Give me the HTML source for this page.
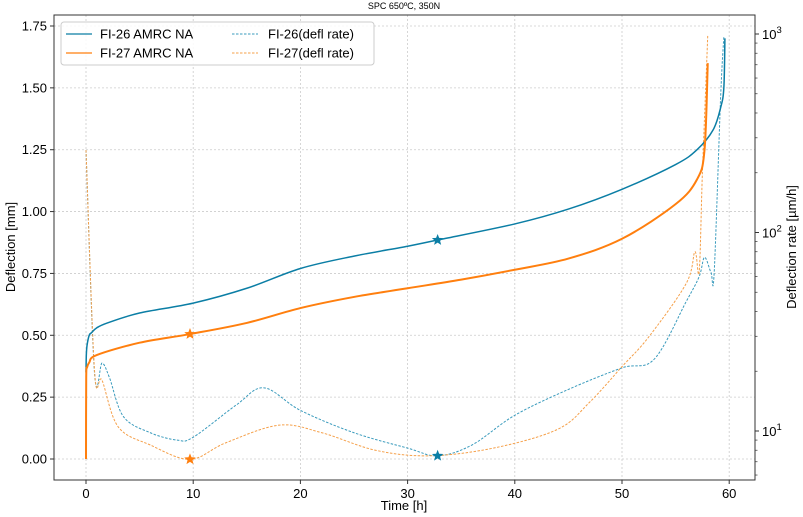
<!DOCTYPE html>
<html><head><meta charset="utf-8"><style>
body{margin:0;background:#fff;}
svg{display:block;font-family:"Liberation Sans","DejaVu Sans",sans-serif;}
</style></head><body>
<svg id="chart" width="803" height="517" viewBox="0 0 803 517" xmlns="http://www.w3.org/2000/svg">
<text x="404" y="9" font-size="9" text-anchor="middle">SPC 650ºC, 350N</text>
<g id="grid"></g>
<g id="series"></g>
<rect x="54" y="15" width="701" height="465" fill="none" stroke="#333" stroke-width="1"/>
<g id="axes"></g>
<text x="404" y="510" font-size="13" text-anchor="middle">Time [h]</text>
<text transform="translate(15,247) rotate(-90)" font-size="13" text-anchor="middle">Deflection [mm]</text>
<text transform="translate(796,247) rotate(-90)" font-size="13" text-anchor="middle">Deflection rate [µm/h]</text>
<g>
<rect x="61" y="22" width="313" height="43" rx="3" fill="#fff" fill-opacity="0.85" stroke="#ccc"/>
<line x1="66" y1="34" x2="92" y2="34" stroke="#0b7ea5" stroke-width="1.3"/>
<text x="100" y="38.5" font-size="13">FI-26 AMRC NA</text>
<line x1="66" y1="53" x2="92" y2="53" stroke="#ff7f0e" stroke-width="1.3"/>
<text x="100" y="57.5" font-size="13">FI-27 AMRC NA</text>
<line x1="232" y1="34" x2="258" y2="34" stroke="#3a9bbd" stroke-width="1" stroke-dasharray="2.5,1.5"/>
<text x="268" y="38.5" font-size="13">FI-26(defl rate)</text>
<line x1="232" y1="53" x2="258" y2="53" stroke="#f5a04a" stroke-width="1" stroke-dasharray="2.5,1.5"/>
<text x="268" y="57.5" font-size="13">FI-27(defl rate)</text>
</g>
</svg>
<script>
const xTicks=[0,10,20,30,40,50,60];
const yTicks=[0,0.25,0.5,0.75,1.0,1.25,1.5,1.75];
const y2Ticks=[1,2,3];
const t26=[0,0.03,0.1,0.3,0.5,1,2,5,10,15,20,25,30,32.8,40,45,50,55,57,58.5,59.2,59.5,59.6];
const d26=[0.35,0.42,0.46,0.5,0.51,0.53,0.55,0.59,0.63,0.69,0.77,0.82,0.86,0.885,0.95,1.01,1.09,1.19,1.25,1.33,1.42,1.5,1.7];
const t27=[0,0.02,0.1,0.3,1,5,9.7,15,20,25,30,35,40,45,50,55,57,57.7,58];
const d27=[0,0.33,0.37,0.39,0.42,0.47,0.505,0.55,0.61,0.655,0.69,0.725,0.765,0.81,0.89,1.03,1.13,1.25,1.6];
const rt26=[0,0.8,1.5,2.2,3.5,6,8.5,10,14,16.6,20,25,30,32.8,36,40,45,50,53,56,57.2,57.7,58.3,58.6,59.2,59.5];
const r26=[260,19.4,22,18.5,11.8,9.8,9.0,9.3,13.5,16.5,12.7,9.8,8.2,7.5,8.5,12,16.2,20.8,23,45,60,75,63,63,480,970];
const rt27=[0,0.8,1.5,3,6,9.7,13,18,22,27,32,38,44,47,50,52.5,56,56.8,57.2,57.5,57.9,58];
const r27=[260,20,18,10.5,8.5,7.2,8.7,10.7,9.8,8,7.5,8.2,10.2,14,21.1,29.8,55.5,80,63.5,200,715,990];
const stars=[{t:32.8,d:0.885,c:"#0b7ea5"},{t:9.7,d:0.505,c:"#ff7f0e"}];
const rStars=[{t:32.8,r:7.5,c:"#0b7ea5"},{t:9.7,r:7.2,c:"#ff7f0e"}];
const X=t=>86+(t)*10.72;
const Y=d=>459-d*(433/1.75);
const Y2=r=>431-(Math.log10(r)-1)*198.5;
const NS="http://www.w3.org/2000/svg";
function mk(tag,attrs,parent){const e=document.createElementNS(NS,tag);for(const k in attrs)e.setAttribute(k,attrs[k]);parent.appendChild(e);return e;}
const grid=document.getElementById('grid'),axes=document.getElementById('axes'),ser=document.getElementById('series');
xTicks.forEach(v=>{
 const g=mk('line',{x1:X(v),x2:X(v),y1:15,y2:480,stroke:'#ccc','stroke-dasharray':'2,2','stroke-width':0.8},grid);
 
 mk('line',{x1:X(v),x2:X(v),y1:480,y2:484,stroke:'#333'},axes);
 const t=mk('text',{x:X(v),y:498,'font-size':13,'text-anchor':'middle'},axes);t.textContent=v;
 
});
yTicks.forEach(v=>{
 const g=mk('line',{x1:54,x2:755,y1:Y(v),y2:Y(v),stroke:'#ccc','stroke-dasharray':'2,2','stroke-width':0.8},grid);
 
 mk('line',{x1:50,x2:54,y1:Y(v),y2:Y(v),stroke:'#333'},axes);
 const t=mk('text',{x:47,y:Y(v)+4.5,'font-size':13,'text-anchor':'end'},axes);t.textContent=v.toFixed(2);
 
});
y2Ticks.forEach(e=>{
 const r=Math.pow(10,e);
 mk('line',{x1:755,x2:759,y1:Y2(r),y2:Y2(r),stroke:'#333'},axes);
 const t=mk('text',{x:762,y:Y2(r)+5,'font-size':13},axes);
 t.innerHTML='10<tspan dy="-6" font-size="9.5">'+e+'</tspan>';
 
});
for(let e=0;e<3;e++)for(let m=2;m<10;m++){const r=m*Math.pow(10,e);const y=Y2(r);if(y>15&&y<480)mk('line',{x1:755,x2:757.5,y1:y,y2:y,stroke:'#333','stroke-width':0.7},axes);}
function smooth(P){let d='M'+P[0][0]+','+P[0][1];
 for(let i=0;i<P.length-1;i++){const p0=P[i-1]||P[i],p1=P[i],p2=P[i+1],p3=P[i+2]||p2;
  const c1=[p1[0]+(p2[0]-p0[0])/6,p1[1]+(p2[1]-p0[1])/6],c2=[p2[0]-(p3[0]-p1[0])/6,p2[1]-(p3[1]-p1[1])/6];
  d+=' C'+c1+' '+c2+' '+p2[0]+','+p2[1];}
 return d;}
function line(ts,vs,f,attrs,name){const P=ts.map((t,i)=>[X(t),f(vs[i])]);
 const p=mk('path',Object.assign({d:smooth(P),fill:'none'},attrs),ser);
 }
line(rt26,r26,Y2,{stroke:'#3a9bbd','stroke-width':1,'stroke-dasharray':'2.5,1.5','stroke-linejoin':'round'},'fi26-rate-line');
line(rt27,r27,Y2,{stroke:'#f5a04a','stroke-width':1,'stroke-dasharray':'2.5,1.5','stroke-linejoin':'round'},'fi27-rate-line');
line(t26,d26,Y,{stroke:'#0b7ea5','stroke-width':1.5,'stroke-linejoin':'round'},'fi26-deflection-line');
line(t27,d27,Y,{stroke:'#ff7f0e','stroke-width':2,'stroke-linejoin':'round'},'fi27-deflection-line');
function star(cx,cy,c,name){let pts=[];for(let i=0;i<10;i++){const a=-Math.PI/2+i*Math.PI/5,r=i%2?2.6:6;pts.push((cx+r*Math.cos(a))+','+(cy+r*Math.sin(a)));}
 const s=mk('polygon',{points:pts.join(' '),fill:c},ser);}
stars.forEach(s=>star(X(s.t),Y(s.d),s.c,'deflection-star-marker'));
rStars.forEach(s=>star(X(s.t),Y2(s.r),s.c,'rate-star-marker'));
</script>
</body></html>
